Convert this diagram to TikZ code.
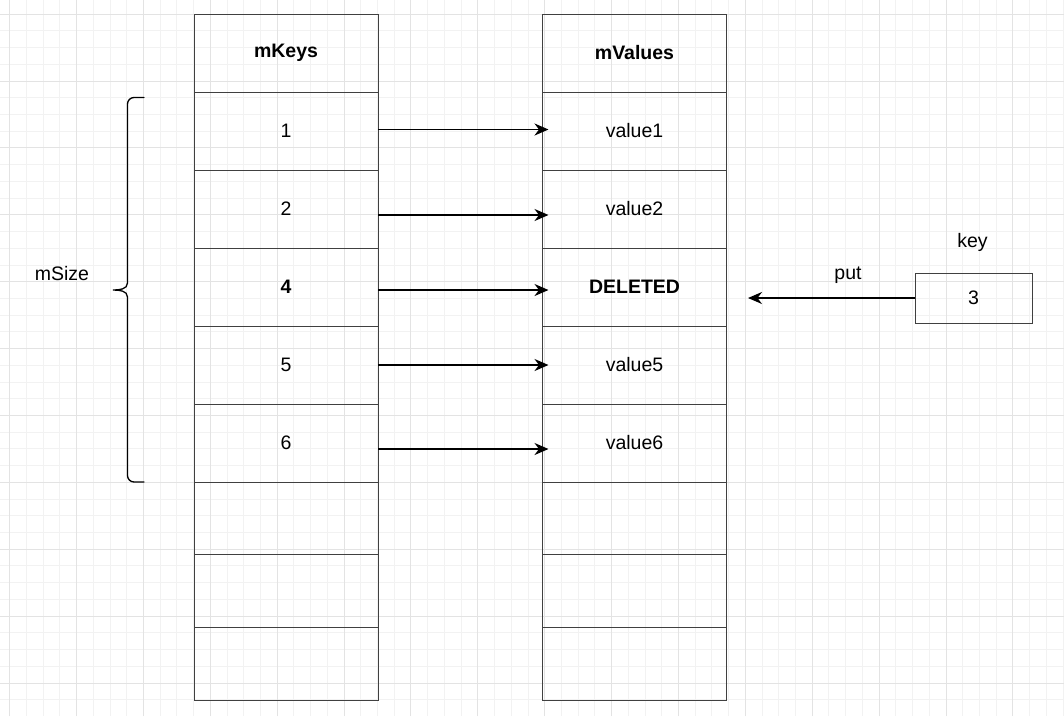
\documentclass[tikz,border=0pt]{standalone}
\usepackage{fontspec}
\setmainfont{Liberation Sans}
\usetikzlibrary{arrows.meta}
\tikzset{cell/.style={draw=black!75, line width=1pt,
                      minimum width=184pt, minimum height=78pt,
                      inner sep=0pt, outer sep=0pt}}
\tikzset{lowcell/.style={cell, minimum height=72.7pt}}
\tikzset{arr/.style={line width=1.7pt, -{Stealth[length=14pt, width=12pt, inset=4.5pt]}}}
\tikzset{brace/.style={line width=1.3pt, line cap=round}}
\tikzset{gridminor/.style={draw=black!5, line width=0.6pt}}
\tikzset{gridmajor/.style={draw=black!11, line width=0.6pt}}

\begin{document}
\begin{tikzpicture}[x=1pt, y=-1pt, font=\fontsize{19.5}{23}\selectfont]
                \useasboundingbox (0,0) rectangle (1064,716);
                \fill[white] (0,0) rectangle (1064,716);

                % background grid
                \begin{scope}[shift={(9.5,14)}, y=1pt]
                    \draw[gridminor, step=16.72pt] (-9.5,-702) grid (1054.5,14);
                    \draw[gridmajor, step=66.88pt] (-9.5,-702) grid (1054.5,14);
                \end{scope}

                % mKeys
                \node[cell] (k0) at (286, 53)  {\textbf{mKeys}};
                \node[cell] (k1) at (286, 131) {1};
                \node[cell] (k2) at (286, 209) {2};
                \node[cell] (k3) at (286, 287) {\textbf{4}};
                \node[cell] (k4) at (286, 365) {5};
                \node[cell] (k5) at (286, 443) {6};
                \node[lowcell] (ke1) at (286, 518.35) {};
                \node[lowcell] (ke2) at (286, 591.05) {};
                \node[lowcell] (ke3) at (286, 663.75) {};

                % mValues
                \node[cell] (v0) at (634.5, 53)  {\textbf{mValues}};
                \node[cell] (v1) at (634.5, 131) {value1};
                \node[cell] (v2) at (634.5, 209) {value2};
                \node[cell] (v3) at (634.5, 287) {\textbf{DELETED}};
                \node[cell] (v4) at (634.5, 365) {value5};
                \node[cell] (v5) at (634.5, 443) {value6};
                \node[lowcell] (ve1) at (634.5, 518.35) {};
                \node[lowcell] (ve2) at (634.5, 591.05) {};
                \node[lowcell] (ve3) at (634.5, 663.75) {};

                \draw[arr] ([yshift=1.5pt]k1.east) -- ([xshift=6pt, yshift=1.5pt]v1.west);
                \draw[arr] ([yshift=-6pt]k2.east) -- ([xshift=6pt, yshift=-6pt]v2.west);
                \draw[arr] ([yshift=-3pt]k3.east) -- ([xshift=6pt, yshift=-3pt]v3.west);
                \draw[arr] (k4.east) -- ([xshift=6pt]v4.west);
                \draw[arr] ([yshift=-6pt]k5.east) -- ([xshift=6pt, yshift=-6pt]v5.west);

                % new key
                \node[cell, minimum width=117pt, minimum height=50pt] (nk) at (973.5, 298) {3};
                \node (keylbl) at (972.5, 242) {key};
                \node (putlbl) at (848, 275) {put};
                \coordinate (putend) at (748, 298);
                \draw[arr] (nk.west) -- (putend);

                % mSize brace
                \draw[brace] (144, 97.5) -- (134, 97.5) to[out=180, in=90] (127.5, 104)
                    -- (127.5, 283) to[out=-90, in=0] (113, 290)
                    to[out=0, in=90] (127.5, 297) -- (127.5, 475.5)
                    to[out=-90, in=180] (134, 482) -- (144, 482);
                \node (sizelbl) at (62, 274) {mSize};
            \end{tikzpicture}
\end{document}
